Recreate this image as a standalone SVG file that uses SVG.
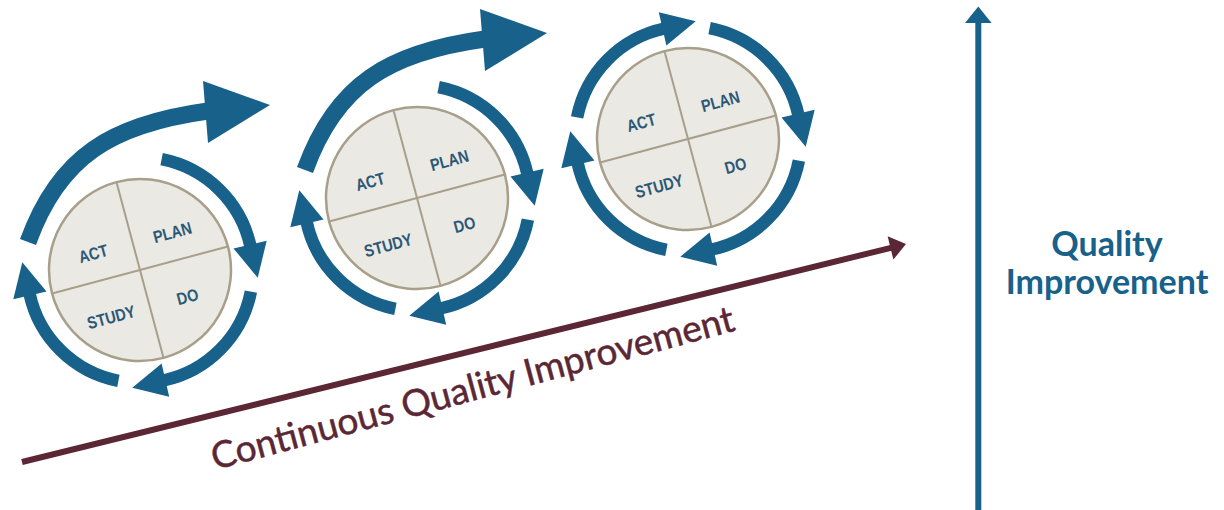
<svg xmlns="http://www.w3.org/2000/svg" xmlns:xlink="http://www.w3.org/1999/xlink" width="1224" height="510" viewBox="0 0 1224 510">
  <style>
    .arc { fill: none; stroke: #17618a; stroke-width: 12.5; }
    .big { fill: none; stroke: #17618a; stroke-width: 17; }
    .head { fill: #17618a; }
    .disc { fill: #ebe9e3; stroke: #a89f8b; stroke-width: 2.5; }
    .div { stroke: #a89f8b; stroke-width: 2; }
    .lbl { font-family: "Liberation Sans", Arial, sans-serif; font-weight: bold; font-size: 17px; fill: #2b5876; text-anchor: middle; }
    .cqi { font-family: Lato, "Liberation Sans", sans-serif; font-size: 37px; fill: #5b2735; stroke: #5b2735; stroke-width: 0.5; }
    .qi { font-family: Lato, "Liberation Sans", sans-serif; font-weight: bold; font-size: 34px; fill: #17618a; text-anchor: middle; }
  </style>
  <defs>
    <!-- one quarter-turn arrow around a cycle disc; rotate by 90deg for the others -->
    <g id="arc-q">
      <path class="arc" d="M21.6,-110.9 A113,113 0 0 1 110.5,-23.5"/>
      <polygon class="head" points="126.7,-29.2 93.5,-21.6 117.7,7.7"/>
    </g>
    <!-- wide sweep that carries a cycle forward to the next one -->
    <g id="arc-big">
      <path class="big" d="M-112,-28 C-81,-114 -28,-145.8 68,-159"/>
      <polygon class="head" points="63,-189 68,-127 130,-165"/>
    </g>
    <!-- PDSA disc -->
    <g id="disc">
      <g transform="rotate(-15)">
        <circle class="disc" r="91"/>
        <line class="div" x1="-91" y1="0" x2="91" y2="0"/>
        <line class="div" x1="0" y1="-91" x2="0" y2="91"/>
      </g>
    </g>
  </defs>

  <!-- connectors: progress axes -->
  <g id="connectors">
    <line x1="22" y1="462" x2="893" y2="247.3" stroke="#5b2735" stroke-width="6"/>
    <polygon points="906,244 887.6,236.2 893.4,259.5" fill="#5b2735"/>
    <line x1="978.3" y1="510" x2="978.3" y2="20" stroke="#17618a" stroke-width="6"/>
    <polygon points="978.3,6.5 965,23 991.6,23" fill="#17618a"/>
  </g>

  <!-- cycle 1 -->
  <g id="cycle-1" transform="translate(140,270)">
    <use xlink:href="#disc"/>
    <!-- condensed quadrant labels -->
    <g transform="rotate(-15) scale(0.85,1)">
      <text class="lbl" x="-48.2" y="-22">ACT</text>
      <text class="lbl" x="48.2" y="-22">PLAN</text>
      <text class="lbl" x="-47.1" y="44">STUDY</text>
      <text class="lbl" x="45.9" y="44">DO</text>
    </g>
    <use xlink:href="#arc-q"/>
    <use xlink:href="#arc-q" transform="rotate(90)"/>
    <use xlink:href="#arc-q" transform="rotate(180)"/>
    <use xlink:href="#arc-big"/>
  </g>

  <!-- cycle 2 -->
  <g id="cycle-2" transform="translate(417,198)">
    <use xlink:href="#disc"/>
    <g transform="rotate(-15) scale(0.85,1)">
      <text class="lbl" x="-48.2" y="-22">ACT</text>
      <text class="lbl" x="48.2" y="-22">PLAN</text>
      <text class="lbl" x="-47.1" y="44">STUDY</text>
      <text class="lbl" x="45.9" y="44">DO</text>
    </g>
    <use xlink:href="#arc-q"/>
    <use xlink:href="#arc-q" transform="rotate(90)"/>
    <use xlink:href="#arc-q" transform="rotate(180)"/>
    <use xlink:href="#arc-big"/>
  </g>

  <!-- cycle 3 -->
  <g id="cycle-3" transform="translate(688,139)">
    <use xlink:href="#disc"/>
    <g transform="rotate(-15) scale(0.85,1)">
      <text class="lbl" x="-48.2" y="-22">ACT</text>
      <text class="lbl" x="48.2" y="-22">PLAN</text>
      <text class="lbl" x="-47.1" y="44">STUDY</text>
      <text class="lbl" x="45.9" y="44">DO</text>
    </g>
    <use xlink:href="#arc-q"/>
    <use xlink:href="#arc-q" transform="rotate(90)"/>
    <use xlink:href="#arc-q" transform="rotate(180)"/>
    <use xlink:href="#arc-q" transform="rotate(270)"/>
  </g>

  <!-- axis labels -->
  <g id="label-cqi">
    <text class="cqi" transform="translate(215,470) rotate(-15)">Continuous Quality Improvement</text>
  </g>
  <g id="label-qi">
    <text class="qi" x="1107" y="256">Quality</text>
    <text class="qi" x="1107" y="294">Improvement</text>
  </g>
</svg>
